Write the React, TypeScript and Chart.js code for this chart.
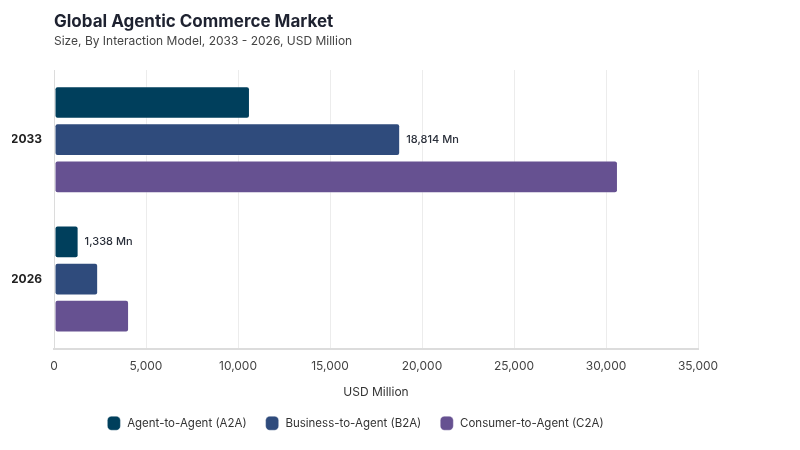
import React, { useEffect, useRef } from "react";
import { Chart, registerables } from "chart.js";

Chart.register(...registerables);

const categories = ["2033", "2026"];
const seriesNames = ["Agent-to-Agent (A2A)", "Business-to-Agent (B2A)", "Consumer-to-Agent (C2A)"];
const a2aValues = [10650, 1338];
const b2aValues = [18814, 2400];
const c2aValues = [30650, 4080];
const a2aLabels = [null, "1,338 Mn"];
const b2aLabels = ["18,814 Mn", null];
const c2aLabels = [null, null];
const seriesColors = ["#003f5c", "#2f4b7c", "#665191"];
const xTicks = [0, 5000, 10000, 15000, 20000, 25000, 30000, 35000];

const FONT = "Inter, 'Noto Sans', sans-serif";

const valueLabelPlugin = {
  id: "valueLabels",
  afterDatasetsDraw(chart: any) {
    const ctx = chart.ctx;
    ctx.save();
    ctx.font = `500 11px ${FONT}`;
    ctx.fillStyle = "#2a2f3a";
    ctx.textBaseline = "middle";
    ctx.textAlign = "left";
    chart.data.datasets.forEach((ds: any, i: number) => {
      const meta = chart.getDatasetMeta(i);
      meta.data.forEach((el: any, j: number) => {
        const lbl = ds.valueLabels?.[j];
        if (lbl) ctx.fillText(lbl, el.x + 6, el.y);
      });
    });
    ctx.restore();
  },
};

export default function App() {
  const ref = useRef<HTMLCanvasElement>(null);
  useEffect(() => {
    document.body.style.margin = "0";
    const valuesList = [a2aValues, b2aValues, c2aValues];
    const labelsList = [a2aLabels, b2aLabels, c2aLabels];
    const chart = new Chart(ref.current!, {
      type: "bar",
      data: {
        labels: categories,
        datasets: seriesNames.map((name, i) => ({
          label: name,
          data: valuesList[i],
          valueLabels: labelsList[i],
          backgroundColor: seriesColors[i],
          borderColor: "rgba(255,255,255,0.35)",
          borderWidth: 1,
          borderRadius: 3,
          borderSkipped: false,
          categoryPercentage: 0.8,
          barPercentage: 0.88,
        })) as any,
      },
      options: {
        indexAxis: "y",
        animation: false,
        responsive: false,
        devicePixelRatio: 1,
        layout: { padding: { left: 12, right: 102, top: 70, bottom: 11 } },
        plugins: {
          title: { display: false },
          tooltip: { enabled: false },
          legend: {
            position: "bottom",
            labels: {
              usePointStyle: true,
              pointStyle: "rectRounded",
              pointStyleWidth: 15,
              boxHeight: 14,
              padding: 18,
              color: "#333",
              font: { family: FONT, size: 11.5 },
            },
          },
        },
        scales: {
          x: {
            min: 0,
            max: 35000,
            afterBuildTicks: (scale: any) => {
              scale.ticks = xTicks.map((v) => ({ value: v }));
            },
            ticks: {
              color: "#444",
              font: { family: FONT, size: 12 },
              padding: 10,
              callback: (v: any) => Number(v).toLocaleString("en-US"),
            },
            grid: { color: "#ececec", drawTicks: false },
            border: { display: true, color: "#dcdcdc", width: 2 },
            title: {
              display: true,
              text: "USD Million",
              color: "#333",
              font: { family: FONT, size: 12 },
              padding: { top: 2, bottom: 0 },
            },
          },
          y: {
            afterFit: (scale: any) => {
              scale.width = 42;
            },
            ticks: {
              color: "#222",
              font: { family: FONT, size: 12, weight: "bold" },
              padding: 12,
            },
            grid: { display: false, drawTicks: false },
            border: { display: true, color: "#dcdcdc", width: 1 },
          },
        },
      } as any,
      plugins: [valueLabelPlugin],
    });
    return () => chart.destroy();
  }, []);

  return (
    <div style={{ position: "relative", width: 800, height: 450, background: "#fff", fontFamily: FONT }}>
      <div style={{ position: "absolute", left: 54, top: 11, fontSize: 17, fontWeight: 700, color: "#1e2230" }}>
        Global Agentic Commerce Market
      </div>
      <div style={{ position: "absolute", left: 54, top: 33, fontSize: 12, color: "#444" }}>
        Size, By Interaction Model, 2033 - 2026, USD Million
      </div>
      <canvas ref={ref} width={800} height={450} style={{ display: "block" }} />
    </div>
  );
}
